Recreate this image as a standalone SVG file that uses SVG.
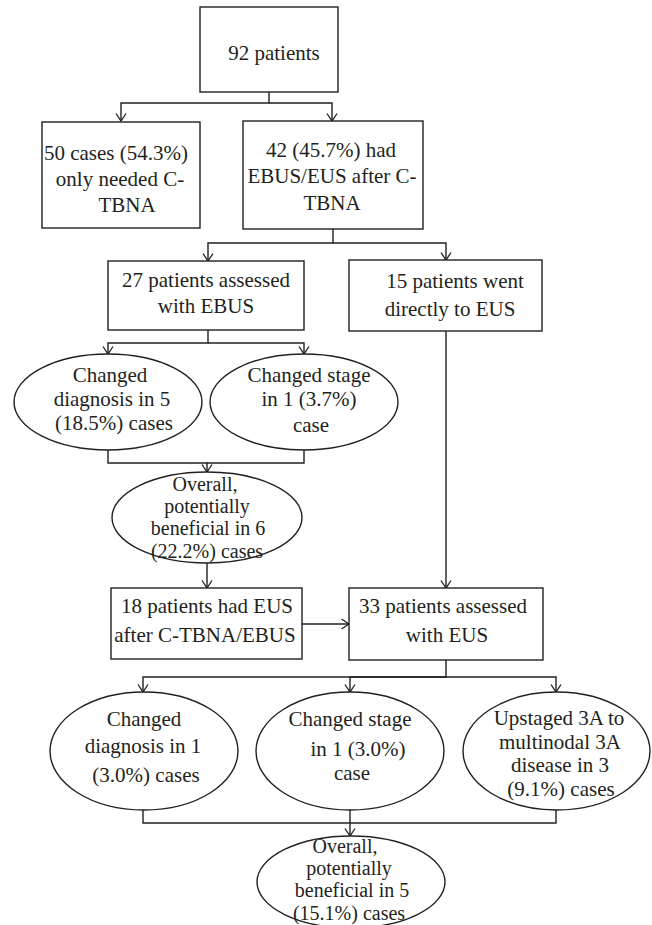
<svg xmlns="http://www.w3.org/2000/svg" width="652" height="925" viewBox="0 0 652 925">
<defs>
<marker id="arr" markerUnits="userSpaceOnUse" markerWidth="12" markerHeight="12" refX="0" refY="0" viewBox="-9 -6 12 12" orient="auto" overflow="visible">
<path d="M-7.5,-5 L0,0 L-7.5,5" fill="none" stroke="#231f20" stroke-width="1.3"/>
</marker>
<style>
.n{fill:#fff;stroke:#231f20;stroke-width:1.4}
.t{font-family:"Liberation Serif","Times New Roman",serif;font-size:21px;fill:#231f20;text-anchor:middle}
.s{font-size:20px}
.c{fill:none;stroke:#231f20;stroke-width:1.4}
</style>
</defs>
<rect width="652" height="925" fill="#fff"/>
<g id="connectors">
<path class="c" d="M269,92 V103 H121 V121" marker-end="url(#arr)"/>
<path class="c" d="M269,103 H332 V121" marker-end="url(#arr)"/>
<path class="c" d="M333,229 V243 H208 V261" marker-end="url(#arr)"/>
<path class="c" d="M333,243 H446 V260" marker-end="url(#arr)"/>
<path class="c" d="M446,331 V588" marker-end="url(#arr)"/>
<path class="c" d="M208,330 V343 H108 V354" marker-end="url(#arr)"/>
<path class="c" d="M208,343 H304 V354" marker-end="url(#arr)"/>
<path class="c" d="M108,450 V463 H207 V472" marker-end="url(#arr)"/>
<path class="c" d="M304,450 V463 H207"/>
<path class="c" d="M207,563 V588" marker-end="url(#arr)"/>
<path class="c" d="M302,624 H349" marker-end="url(#arr)"/>
<path class="c" d="M446,660 V677 H143 V692" marker-end="url(#arr)"/>
<path class="c" d="M446,677 H350 V692" marker-end="url(#arr)"/>
<path class="c" d="M446,677 H556 V692" marker-end="url(#arr)"/>
<path class="c" d="M143,810 V823 H350 V836" marker-end="url(#arr)"/>
<path class="c" d="M556,810 V823 H350"/>
<path class="c" d="M350,810 V823"/>
</g>
<g id="n92">
<rect class="n" x="200" y="7" width="138" height="85"/>
<text class="t" x="274" y="60">92 patients</text>
</g>
<g id="n50">
<rect class="n" x="42" y="122" width="158" height="106"/>
<text class="t" x="116" y="160">50 cases (54.3%)</text>
<text class="t" x="120" y="186">only needed C-</text>
<text class="t" x="127" y="212">TBNA</text>
</g>
<g id="n42">
<rect class="n" x="243" y="121" width="180" height="108"/>
<text class="t" x="331" y="157">42 (45.7%) had</text>
<text class="t" x="332" y="183">EBUS/EUS after C-</text>
<text class="t" x="332" y="210">TBNA</text>
</g>
<g id="n27">
<rect class="n" x="108" y="261" width="196" height="69"/>
<text class="t" x="206" y="287">27 patients assessed</text>
<text class="t" x="206" y="313">with EBUS</text>
</g>
<g id="n15">
<rect class="n" x="349" y="260" width="193" height="71"/>
<text class="t" x="455" y="288">15 patients went</text>
<text class="t" x="450" y="316">directly to EUS</text>
</g>
<g id="e5">
<ellipse class="n" cx="108" cy="402" rx="94" ry="48"/>
<text class="t" x="110" y="382">Changed</text>
<text class="t" x="112" y="405.5">diagnosis in 5</text>
<text class="t" x="114" y="430">(18.5%) cases</text>
</g>
<g id="e37">
<ellipse class="n" cx="304" cy="402" rx="94" ry="48"/>
<text class="t" x="309" y="382">Changed stage</text>
<text class="t" x="309" y="406">in 1 (3.7%)</text>
<text class="t" x="311" y="432">case</text>
</g>
<g id="e6">
<ellipse class="n" cx="207" cy="517.5" rx="95" ry="45.5"/>
<text class="t s" x="205" y="491">Overall,</text>
<text class="t s" x="207" y="513.2">potentially</text>
<text class="t s" x="208" y="535.4">beneficial in 6</text>
<text class="t s" x="207" y="557.6">(22.2%) cases</text>
</g>
<g id="n18">
<rect class="n" x="111" y="588" width="191" height="71"/>
<text class="t" x="207" y="613">18 patients had EUS</text>
<text class="t" x="205" y="642">after C-TBNA/EBUS</text>
</g>
<g id="n33">
<rect class="n" x="349" y="588" width="194" height="72"/>
<text class="t" x="443" y="613">33 patients assessed</text>
<text class="t" x="447" y="642">with EUS</text>
</g>
<g id="e1">
<ellipse class="n" cx="144" cy="751" rx="94" ry="59"/>
<text class="t" x="144" y="726">Changed</text>
<text class="t" x="143" y="753">diagnosis in 1</text>
<text class="t" x="146" y="782">(3.0%) cases</text>
</g>
<g id="e30">
<ellipse class="n" cx="350" cy="751" rx="94" ry="59"/>
<text class="t" x="350" y="726">Changed stage</text>
<text class="t" x="358" y="756">in 1 (3.0%)</text>
<text class="t" x="352" y="779.5">case</text>
</g>
<g id="e91">
<ellipse class="n" cx="556.5" cy="751" rx="93.5" ry="59"/>
<text class="t" x="559" y="724.5">Upstaged 3A to</text>
<text class="t" x="560" y="748.5">multinodal 3A</text>
<text class="t" x="560" y="772.3">disease in 3</text>
<text class="t" x="561" y="796">(9.1%) cases</text>
</g>
<g id="e15">
<ellipse class="n" cx="351" cy="882" rx="94" ry="46"/>
<text class="t s" x="345" y="853">Overall,</text>
<text class="t s" x="349" y="875.2">potentially</text>
<text class="t s" x="352" y="897.4">beneficial in 5</text>
<text class="t s" x="349" y="919.6">(15.1%) cases</text>
</g>
</svg>
